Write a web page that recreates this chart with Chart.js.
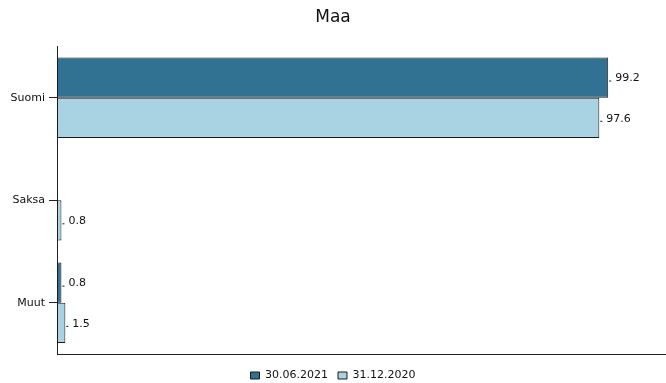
<!DOCTYPE html>
<html>
<head>
<meta charset="utf-8">
<script src="https://cdn.jsdelivr.net/npm/chart.js@4"></script>
<style>
  html, body { margin: 0; padding: 0; background: #fff; }
  #wrap { width: 666px; height: 383px; }
</style>
</head>
<body>
<div id="wrap"><canvas id="maaChart"></canvas></div>
<script>
const categories = ['Suomi', 'Saksa', 'Muut'];
const seriesNames = ['30.06.2021', '31.12.2020'];
const values2021 = [99.2, null, 0.8];
const values2020 = [97.6, 0.8, 1.5];

const FONT = '"DejaVu Sans", Verdana, sans-serif';

// small tick + value text at the end of each bar
const valueLabels = {
    id: 'valueLabels',
    afterDatasetsDraw(chart) {
        const ctx = chart.ctx;
        ctx.save();
        ctx.font = '11px ' + FONT;
        ctx.fillStyle = '#111';
        ctx.strokeStyle = '#111';
        ctx.lineWidth = 1;
        ctx.textBaseline = 'middle';
        chart.data.datasets.forEach(function (ds, i) {
            const meta = chart.getDatasetMeta(i);
            meta.data.forEach(function (bar, j) {
                const v = ds.data[j];
                if (v === null || v === undefined) return;
                ctx.beginPath();
                ctx.moveTo(bar.x + 1, bar.y + 3.5);
                ctx.lineTo(bar.x + 3, bar.y + 3.5);
                ctx.stroke();
                ctx.fillText(v.toFixed(1), bar.x + 7, bar.y + 1);
            });
        });
        ctx.restore();
    }
};

const ctx = document.getElementById('maaChart').getContext('2d');
new Chart(ctx, {
    type: 'bar',
    data: {
        labels: categories,
        datasets: [{
            label: seriesNames[0],
            data: values2021,
            backgroundColor: '#317293',
            borderColor: '#1b1b1b',
            borderWidth: 1,
            borderSkipped: false,
            categoryPercentage: 0.785,
            barPercentage: 1
        }, {
            label: seriesNames[1],
            data: values2020,
            backgroundColor: '#a9d3e3',
            borderColor: '#1b1b1b',
            borderWidth: 1,
            borderSkipped: false,
            categoryPercentage: 0.785,
            barPercentage: 1
        }]
    },
    options: {
        indexAxis: 'y',
        responsive: true,
        maintainAspectRatio: false,
        animation: false,
        layout: { padding: { top: 0, right: 0, left: 0, bottom: -8 } },
        plugins: {
            title: {
                display: true,
                text: 'Maa',
                color: '#111',
                font: { family: FONT, size: 17, weight: 'normal' },
                padding: { top: 7, bottom: 19 }
            },
            legend: {
                position: 'bottom',
                labels: {
                    color: '#111',
                    font: { family: FONT, size: 11 },
                    boxWidth: 9,
                    boxHeight: 7,
                    padding: 10
                }
            },
            tooltip: { enabled: false }
        },
        scales: {
            x: {
                min: 0,
                max: 109.6,
                ticks: { display: false },
                grid: { display: false },
                border: { display: true, color: '#222', width: 1 },
                afterFit: function (scale) { scale.height = 6; }
            },
            y: {
                ticks: {
                    color: '#111',
                    padding: 4,
                    font: { family: FONT, size: 11 }
                },
                grid: {
                    drawOnChartArea: false,
                    drawTicks: true,
                    tickLength: 8,
                    offset: false,
                    color: '#222'
                },
                border: { display: true, color: '#222', width: 1 },
                afterFit: function (scale) { scale.width = 57; }
            }
        }
    },
    plugins: [valueLabels]
});
</script>
</body>
</html>
